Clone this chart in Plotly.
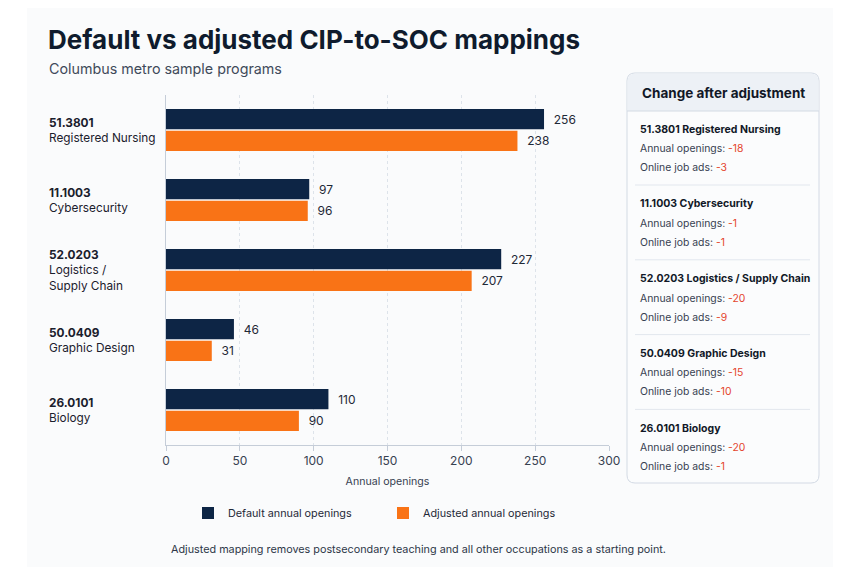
import plotly.graph_objects as go

# ---------------- data ----------------
codes = ["51.3801", "11.1003", "52.0203", "50.0409", "26.0101"]
names = ["Registered Nursing", "Cybersecurity", "Logistics /<br>Supply Chain", "Graphic Design", "Biology"]
panel_names = ["Registered Nursing", "Cybersecurity", "Logistics / Supply Chain", "Graphic Design", "Biology"]
default_openings = [256, 97, 227, 46, 110]
adjusted_openings = [238, 96, 207, 31, 90]
delta_openings = [-18, -1, -20, -15, -20]
delta_ads = [-3, -1, -9, -10, -1]
x_ticks = [0, 50, 100, 150, 200, 250, 300]

NAVY = "#0d2545"
ORANGE = "#f97316"
RED = "#e4452d"
FONT = "Inter"

W, H = 863, 575
L, R, T, B = 166, 609, 95, 445


def px(x):
    return (x - L) / (R - L)


def py(y):
    return (B - y) / (B - T)


def rrect(x0, y0, x1, y1, r, top_only=False):
    X0, X1 = px(x0), px(x1)
    Y0, Y1 = py(y0), py(y1)  # Y0 top (larger), Y1 bottom
    rx = r / (R - L)
    ry = r / (B - T)
    if top_only:
        return (f"M {X0},{Y1} L {X0},{Y0-ry} Q {X0},{Y0} {X0+rx},{Y0} "
                f"L {X1-rx},{Y0} Q {X1},{Y0} {X1},{Y0-ry} L {X1},{Y1} Z")
    return (f"M {X0+rx},{Y0} L {X1-rx},{Y0} Q {X1},{Y0} {X1},{Y0-ry} "
            f"L {X1},{Y1+ry} Q {X1},{Y1} {X1-rx},{Y1} L {X0+rx},{Y1} "
            f"Q {X0},{Y1} {X0},{Y1+ry} L {X0},{Y0-ry} Q {X0},{Y0} {X0+rx},{Y0} Z")


fig = go.Figure()
fig.add_trace(go.Bar(
    y=codes, x=default_openings, orientation="h", name="Default annual openings",
    marker=dict(color=NAVY, line=dict(width=0)),
    text=default_openings, texttemplate="  %{x}", textposition="outside",
    textfont=dict(family=FONT, size=12, color="#1f2937"), cliponaxis=False,
))
fig.add_trace(go.Bar(
    y=codes, x=adjusted_openings, orientation="h", name="Adjusted annual openings",
    marker=dict(color=ORANGE, line=dict(width=0)),
    text=adjusted_openings, texttemplate="  %{x}", textposition="outside",
    textfont=dict(family=FONT, size=12, color="#1f2937"), cliponaxis=False,
))

shapes = []
annotations = []

# background card
shapes.append(dict(type="rect", xref="paper", yref="paper",
                   x0=px(27), x1=px(833), y0=py(567), y1=py(8),
                   fillcolor="#fafbfc", line=dict(width=0), layer="below"))

# title and subtitle
annotations.append(dict(text="<b>Default vs adjusted CIP-to-SOC mappings</b>",
                        xref="paper", yref="paper", x=px(46), y=py(39),
                        xanchor="left", yanchor="middle", showarrow=False,
                        font=dict(family=FONT, size=26, color="#0f1b2d")))
annotations.append(dict(text="Columbus metro sample programs",
                        xref="paper", yref="paper", x=px(47), y=py(69),
                        xanchor="left", yanchor="middle", showarrow=False,
                        font=dict(family=FONT, size=14.3, color="#3f4a5a")))

# category labels (positioned by category index on the category axis)
for i, (c, n) in enumerate(zip(codes, names)):
    annotations.append(dict(text=f"<b>{c}</b><br>{n}", xref="paper", yref="y",
                            x=px(47), y=i, xanchor="left", yanchor="middle",
                            align="left", showarrow=False,
                            font=dict(family=FONT, size=11.8, color="#1a202c")))

# footnote
annotations.append(dict(text="Adjusted mapping removes postsecondary teaching and all other occupations as a starting point.",
                        xref="paper", yref="paper", x=px(418), y=py(549),
                        xanchor="center", yanchor="middle", showarrow=False,
                        font=dict(family=FONT, size=10.8, color="#2d3748")))

# side panel
PX0, PX1, PY0, PY1 = 627, 819, 73, 483
shapes.append(dict(type="path", xref="paper", yref="paper",
                   path=rrect(PX0, PY0, PX1, PY1, 8),
                   fillcolor="#fbfcfd", line=dict(color="#d3dae4", width=1)))
shapes.append(dict(type="path", xref="paper", yref="paper",
                   path=rrect(PX0 + 0.5, PY0 + 0.5, PX1 - 0.5, 111, 8, top_only=True),
                   fillcolor="#edf1f6", line=dict(width=0)))
shapes.append(dict(type="line", xref="paper", yref="paper",
                   x0=px(PX0), x1=px(PX1), y0=py(111), y1=py(111),
                   line=dict(color="#d3dae4", width=1)))
annotations.append(dict(text="<b>Change after adjustment</b>", xref="paper", yref="paper",
                        x=px(723), y=py(93), xanchor="center", yanchor="middle",
                        showarrow=False, font=dict(family=FONT, size=13.5, color="#111827")))

for i in range(len(codes)):
    y0 = 129 + i * 74.8
    annotations.append(dict(text=f"<b>{codes[i]} {panel_names[i]}</b>", xref="paper", yref="paper",
                            x=px(638), y=py(y0), xanchor="left", yanchor="middle",
                            showarrow=False, font=dict(family=FONT, size=10.5, color="#111827")))
    annotations.append(dict(text=f"Annual openings: <span style='color:{RED}'>{delta_openings[i]}</span>",
                            xref="paper", yref="paper", x=px(638), y=py(y0 + 19.5),
                            xanchor="left", yanchor="middle", showarrow=False,
                            font=dict(family=FONT, size=10.4, color="#374151")))
    annotations.append(dict(text=f"Online job ads: <span style='color:{RED}'>{delta_ads[i]}</span>",
                            xref="paper", yref="paper", x=px(638), y=py(y0 + 38.5),
                            xanchor="left", yanchor="middle", showarrow=False,
                            font=dict(family=FONT, size=10.4, color="#374151")))
    if i < len(codes) - 1:
        ys = y0 + 56
        shapes.append(dict(type="line", xref="paper", yref="paper",
                           x0=px(635), x1=px(810), y0=py(ys), y1=py(ys),
                           line=dict(color="#e2e7ee", width=1)))

fig.update_layout(
    width=W, height=H,
    margin=dict(l=L, r=W - R, t=T, b=H - B, pad=0),
    paper_bgcolor="white", plot_bgcolor="rgba(0,0,0,0)",
    barmode="group", bargap=0.38, bargroupgap=0.07,
    font=dict(family=FONT, size=12, color="#1f2937"),
    shapes=shapes, annotations=annotations,
    showlegend=True,
    legend=dict(orientation="h", x=px(188), y=py(513), xanchor="left", yanchor="middle",
                entrywidth=150, entrywidthmode="pixels",
                font=dict(family=FONT, size=10.8, color="#1f2937"),
                bgcolor="rgba(0,0,0,0)"),
    xaxis=dict(range=[0, 300], tickvals=x_ticks, showgrid=True, gridcolor="#dde3ea",
               griddash="dot", gridwidth=1, zeroline=False,
               showline=True, linecolor="#c5cdd8", linewidth=1,
               ticks="outside", ticklen=5, tickcolor="#c5cdd8",
               tickfont=dict(family=FONT, size=12, color="#374151"),
               title=dict(text="Annual openings", standoff=10,
                          font=dict(family=FONT, size=10.6, color="#374151"))),
    yaxis=dict(type="category", range=[4.5, -0.5], showticklabels=False, showgrid=False,
               showline=True, linecolor="#c5cdd8", linewidth=1, zeroline=False, ticks=""),
)

fig.write_html("out.html")
